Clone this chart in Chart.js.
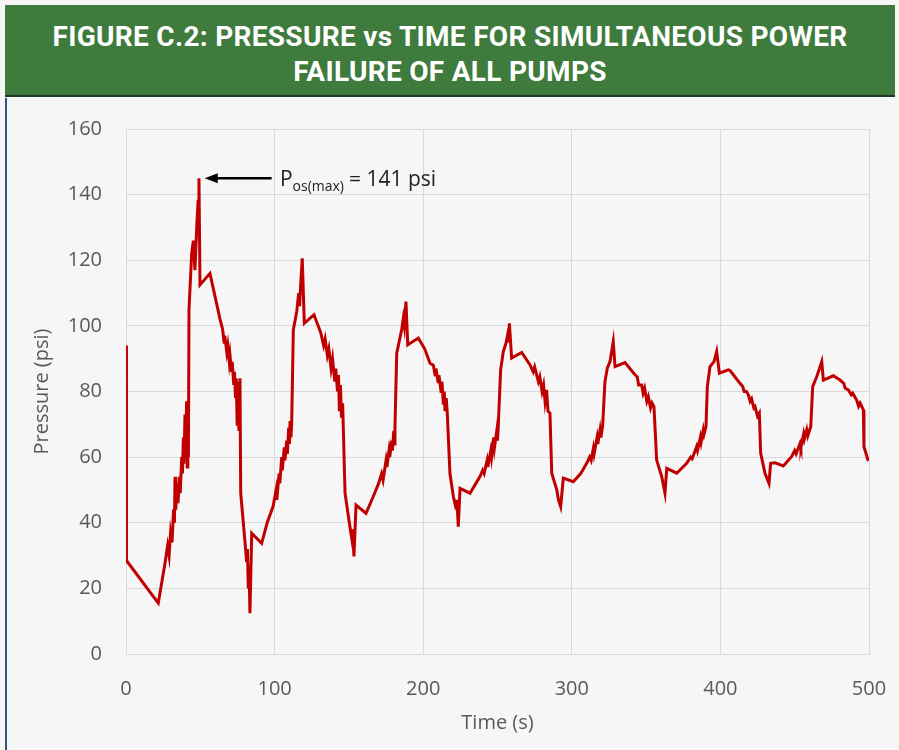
<!DOCTYPE html>
<html>
<head>
<meta charset="utf-8">
<script src="https://cdn.jsdelivr.net/npm/chart.js@4.4.1/dist/chart.umd.min.js"></script>
<style>
  body { margin: 0; background: #f6f6f6; width: 899px; height: 750px; overflow: hidden; }
  #header {
    position: absolute; left: 5px; top: 5px; width: 890px; height: 92px;
    background: #3e7b3d; border-bottom: 2px solid #1f3a22;
    color: #fff; font-family: Roboto, sans-serif; font-weight: 700;
    font-size: 28px; line-height: 35px; text-align: center; letter-spacing: 0.3px;
    padding-top: 14px; box-sizing: border-box;
  }
  #panel {
    position: absolute; left: 5px; top: 98px; width: 890px; height: 652px;
    border-left: 2px solid #34557a; box-sizing: border-box; background: #f6f6f6;
  }
  #chartBox { position: absolute; left: 6px; top: 98px; width: 893px; height: 652px; }
</style>
</head>
<body>
<div id="header">FIGURE C.2: PRESSURE vs TIME FOR SIMULTANEOUS POWER<br>FAILURE OF ALL PUMPS</div>
<div id="panel"></div>
<div id="chartBox"><canvas id="pressureChart" width="893" height="652"></canvas></div>

<script>
  // values (time in s, pressure in psi)
  const timeS = [
    0, 0.3, 21.7, 26, 28, 29, 30, 31, 32, 32.6, 33, 33.5, 34.5, 35, 36, 36.5, 37.5, 38, 38.6, 39, 39.7, 40, 40.8, 41.2, 41.6, 42,
    42.4, 44.2, 45.3, 46.4, 47.6, 48.5, 49.1, 49.8, 56.5, 63.3,
    65, 66, 66.5, 67.8, 68.5, 69.5, 70, 71, 71.5, 72.5, 73, 73.7, 74.2, 74.8, 75.3, 76, 76.7,
    77.2, 80.1, 81.2, 81.7, 82.3, 82.8, 83.4, 84.6, 91.3,
    95, 99, 101, 101.5, 103, 103.5, 104.8, 105.2, 106.5, 107, 108.1, 108.6, 109.5, 110, 110.4, 111, 111.5,
    112.6, 114.9, 116.2, 116.8, 117.6, 118.6, 120, 126.5,
    131, 133, 134, 135.5, 136.5, 138, 139, 140.5, 141.2, 142.3, 143, 143.6, 144.3, 145, 145.8,
    147.4, 150.7, 152, 152.6, 153.4, 154.8, 161.5, 166.4,
    170, 172, 173, 175, 175.6, 177, 177.5, 178.8, 179.3, 180.2, 180.6, 181,
    182.2, 185.5, 186.6, 187.3, 188.4, 189.6, 196.7, 201, 204.6,
    206.8, 208, 208.6, 210, 210.6, 212, 212.6, 213.6, 214.2, 214.7, 215.5, 216.2,
    218, 220.3, 222.1, 222.7, 223.6, 224.8, 231.5, 238.2,
    240, 241, 243, 243.5, 245.5, 246, 247.5, 248, 249.5, 250, 250.5,
    252.1, 253.9, 255.7, 256.7, 257.3, 258, 259.5, 266.3, 271.9,
    274, 275, 277.5, 278.5, 280, 281, 282, 283, 284, 285.3,
    286.5, 289.9, 291, 292.5, 294.3, 301, 306,
    310, 312, 313, 314.5, 315, 317, 317.5, 319, 319.6, 320.8,
    322.3, 323.9, 325.7, 327.9, 329.1, 335.8, 342.5,
    344, 345, 347, 348, 349, 350.5, 351.5, 353, 354, 355.3,
    357.1, 360.5, 362.7, 363.9, 370.6, 377.3,
    380, 381, 384, 384.6, 386.5, 387, 388.5, 389, 390.3,
    391.2, 393, 395.7, 397.5, 399.3, 405.3, 406.5, 413.2,
    415, 416, 417.5, 418.8, 420, 421, 422.5, 423.3, 425, 426.2,
    427.1, 430, 432.7, 433.8, 436.7, 442.3, 448,
    450, 451, 453.6, 454.2, 456, 456.5, 458.1, 458.8, 460.8,
    462.1, 464.8, 466.4, 468.2, 469.3, 476, 480.5,
    483, 484, 486.1, 488, 489, 491.7, 493, 494, 496.2, 496.6, 499.5
  ];
  const pressurePsi = [
    94, 28.5, 15.5, 27, 33, 30, 37, 34, 44, 40, 54, 44, 52, 46, 54, 49, 60, 55, 66, 58, 73, 60, 77, 57, 76, 60,
    105, 122, 126, 117, 130, 138, 145, 112.5, 116, 102,
    99, 95, 97, 92, 94, 89, 91, 86, 89, 82, 86, 78, 84, 70, 83, 68, 84,
    49, 34, 28, 32, 20, 27, 12.4, 36.8, 33.7,
    40, 45, 50, 47, 55, 52, 60, 56, 63, 59, 65, 61, 69, 64, 71, 66, 70.4,
    98.8, 104.4, 110, 106, 113, 120.6, 100.8, 103.4,
    98, 94, 96, 91, 93, 87, 90, 83, 87, 80, 85, 74, 82, 72, 76.4,
    49, 38.8, 35, 38, 29.7, 45.4, 42.9, 48,
    52, 55, 53, 59, 57, 62, 60, 65, 62, 68, 64, 69.3,
    91.7, 98.8, 102.3, 100, 107.4, 94.2, 96.3, 93, 88.6,
    88, 85, 87, 83, 85, 80, 83, 76, 80, 74, 78, 73.5,
    55, 48, 44.4, 47, 38.8, 50.5, 49, 54.1,
    56, 55, 59, 57, 62, 60, 66, 63, 68, 65, 69.3,
    86.6, 92.2, 94.7, 97, 95, 100.8, 90.2, 91.9, 88.1,
    86, 87.5, 83, 84.5, 80, 82, 77, 80.5, 74, 73.4,
    55.1, 50, 47, 44.9, 53.6, 52.5, 55,
    58.1, 60, 59, 62.7, 61, 66, 64, 68.3, 66, 69.8,
    83, 87.1, 89.1, 95.2, 87.6, 88.8, 85.1,
    84.5, 82, 82, 79.5, 81, 77, 78.4, 75, 76.5, 75.4,
    59.1, 54.1, 49, 56.6, 55.1, 58.1,
    60, 59.5, 63.2, 62, 66, 64.5, 68.3, 67, 69.3,
    81.5, 87.6, 89.1, 92.2, 85.6, 86.6, 86.4, 82.5,
    81.5, 80, 80, 79, 77, 77.8, 75, 75.4, 72.5, 73.4,
    61.2, 55.1, 52, 58.1, 58.3, 57.3, 60.2,
    62, 61, 64.2, 63, 67, 65.5, 68.3, 66.5, 69.3,
    81.5, 84.5, 86.6, 89.1, 83.5, 84.8, 83.5,
    82.5, 81, 80.5, 79, 79.5, 77.4, 75.5, 76.5, 74.4, 63.2, 58.8
  ];

  const xTicks = [0, 100, 200, 300, 400, 500];
  const yTicks = [0, 20, 40, 60, 80, 100, 120, 140, 160];

  // annotation: arrow pointing at the peak
  const peakNote = { tipTime: 53, tailTime: 98, pressure: 145, textTime: 103.6 };

  const tickFont = { family: "'Open Sans', sans-serif", size: 20 };

  // draws arrow + "Pos(max) = 141 psi"
  const peakNotePlugin = {
    id: "peakNote",
    afterDatasetsDraw(chart) {
      const ctx = chart.ctx;
      const x = chart.scales.x, y = chart.scales.y;
      const yPix = y.getPixelForValue(peakNote.pressure);
      const tip = x.getPixelForValue(peakNote.tipTime);
      const tail = x.getPixelForValue(peakNote.tailTime);

      ctx.save();
      ctx.strokeStyle = "#000";
      ctx.fillStyle = "#000";
      ctx.lineWidth = 2.5;
      ctx.beginPath();
      ctx.moveTo(tail, yPix);
      ctx.lineTo(tip + 10, yPix);
      ctx.stroke();
      ctx.beginPath();
      ctx.moveTo(tip, yPix);
      ctx.lineTo(tip + 13, yPix - 5);
      ctx.lineTo(tip + 13, yPix + 5);
      ctx.closePath();
      ctx.fill();

      let tx = x.getPixelForValue(peakNote.textTime);
      ctx.fillStyle = "#222";
      ctx.textBaseline = "alphabetic";
      ctx.font = "21px 'Open Sans', sans-serif";
      ctx.fillText("P", tx, yPix + 8);
      tx += ctx.measureText("P").width;
      ctx.font = "14px 'Open Sans', sans-serif";
      ctx.fillText("os(max)", tx, yPix + 13);
      tx += ctx.measureText("os(max)").width + 5;
      ctx.font = "21px 'Open Sans', sans-serif";
      ctx.fillText("= 141 psi", tx, yPix + 8);
      ctx.restore();
    }
  };

  function drawChart() {
    const points = timeS.map((t, i) => ({ x: t, y: pressurePsi[i] }));
    const ctx = document.getElementById("pressureChart").getContext("2d");

    new Chart(ctx, {
      type: "scatter",
      data: {
        datasets: [{
          data: points,
          showLine: true,
          borderColor: "#c00000",
          borderWidth: 3,
          pointRadius: 0,
          tension: 0
        }]
      },
      options: {
        responsive: false,
        animation: false,
        layout: { padding: { top: 31, right: 30, left: 0, bottom: 0 } },
        plugins: { legend: { display: false }, tooltip: { enabled: false } },
        scales: {
          x: {
            type: "linear",
            min: 0, max: 500,
            afterBuildTicks: (s) => { s.ticks = xTicks.map((v) => ({ value: v })); },
            afterFit: (s) => { s.height = 96; s.paddingLeft = 0; s.paddingRight = 0; },
            grid: { color: "#d9d9d9", drawTicks: false },
            border: { color: "#d9d9d9" },
            ticks: { color: "#595959", font: tickFont, padding: 23, maxRotation: 0 },
            title: { display: true, text: "Time (s)", color: "#595959", font: tickFont, padding: { top: 15, bottom: 15 } }
          },
          y: {
            type: "linear",
            min: 0, max: 160,
            afterBuildTicks: (s) => { s.ticks = yTicks.map((v) => ({ value: v })); },
            afterFit: (s) => { s.width = 120; s.paddingTop = 0; s.paddingBottom = 0; },
            grid: { color: "#d9d9d9", drawTicks: false },
            border: { color: "#d9d9d9" },
            ticks: { color: "#595959", font: tickFont, padding: 24 },
            title: { display: true, text: "Pressure (psi)", color: "#595959", font: tickFont, padding: { top: 24, bottom: 24 } }
          }
        }
      },
      plugins: [peakNotePlugin]
    });
  }

  drawChart();
</script>
</body>
</html>
